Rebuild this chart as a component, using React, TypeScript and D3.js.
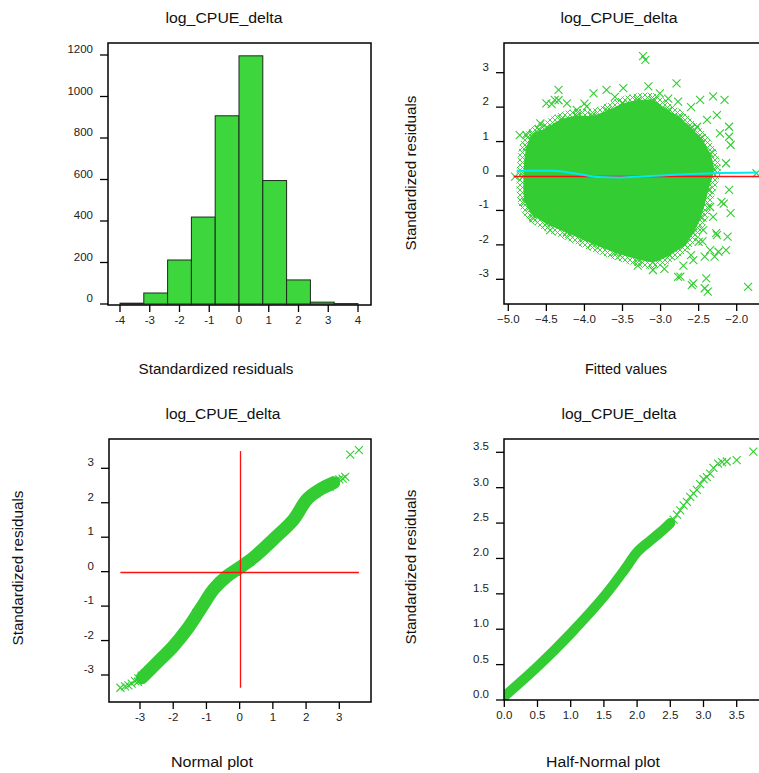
import React from 'react';
import * as d3 from 'd3';

const W = 759;
const H = 773;
const FONT = '"Liberation Sans", Arial, Helvetica, sans-serif';
const GREEN = '#33cc33';
const BAR_FILL = '#3dd63d';
const RED = '#ff1010';
const CYAN = '#00e8f0';

// histogram of standardized residuals
const binEdges = [-4, -3.2, -2.4, -1.6, -0.8, 0, 0.8, 1.6, 2.4, 3.2, 4];
const binCounts = [4, 53, 212, 419, 907, 1196, 595, 116, 9, 2];
const histXTicks = [-4, -3, -2, -1, 0, 1, 2, 3, 4];
const histYTicks = [0, 200, 400, 600, 800, 1000, 1200];

// residuals vs fitted: dense core outline
const coreX = [-4.8, -4.76, -4.68, -4.5, -4.3, -4.1, -3.9, -3.7, -3.5, -3.3, -3.1, -2.9, -2.75, -2.6, -2.47, -2.35, -2.3, -2.37, -2.47, -2.57, -2.68, -2.88, -3.1, -3.3, -3.6, -3.9, -4.2, -4.5, -4.68, -4.78];
const coreY = [0.0, 0.85, 1.2, 1.4, 1.65, 1.75, 1.75, 1.9, 2.1, 2.2, 2.2, 1.9, 1.7, 1.4, 1.1, 0.65, 0.2, -0.4, -1.2, -1.65, -2.0, -2.3, -2.5, -2.42, -2.22, -1.97, -1.68, -1.38, -1.12, -0.75];
// residuals vs fitted: scattered points around the core
const fitX = [-3.23, -3.2, -3.16, -2.79, -4.34, -4.43, -4.34, -4.85, -4.76, -3.71, -3.49, -3.88, -2.31, -2.16, -2.48, -2.1, -2.1, -2.08, -2.14, -1.74, -4.91, -2.1, -2.17, -2.08, -2.12, -2.27, -2.14, -2.29, -2.4, -2.38, -2.42, -2.57, -1.85, -2.74, -2.57, -2.44, -2.31, -4.5, -4.39, -4.23, -4.1, -3.97, -4.58, -4.67, -4.71, -3.01, -2.77, -2.26, -2.22, -2.39, -2.52, -2.2, -2.24, -2.35, -2.59, -2.77, -2.26, -2.5, -2.42, -4.76, -4.71, -4.67, -4.45, -4.23, -4.01, -3.79, -3.53, -3.1, -2.95, -3.3, -2.6, -2.9, -3.6, -4.0, -4.6, -2.4, -2.35, -2.6, -2.7, -2.45];
const fitY = [3.48, 3.37, 2.6, 2.69, 2.5, 2.09, 2.2, 1.19, 1.19, 2.5, 2.55, 2.4, 2.31, 2.21, 2.21, 1.43, 1.14, 0.9, 0.37, 0.08, -0.02, -0.4, -0.8, -1.08, -1.76, -1.66, -2.15, -2.34, -2.97, -3.36, -3.26, -3.12, -3.22, -2.92, -2.44, -1.57, -1.19, 2.11, 2.21, 2.11, 1.92, 2.02, 1.53, 0.95, 0.56, 2.4, 2.16, 1.77, 1.24, 1.63, 1.43, -0.75, -2.2, -2.15, -3.17, -2.93, -1.72, -1.91, -2.34, -0.6, -0.89, -1.23, -1.57, -1.62, -1.81, -2.01, -2.3, -2.73, -2.7, -2.6, 2.0, 2.25, 2.3, 2.1, 1.35, 0.5, -0.9, -2.3, -2.6, -1.9];
// smoother through the residuals
const smoothX = [-4.89, -4.43, -4.08, -3.82, -3.56, -3.21, -2.77, -2.33, -1.72];
const smoothY = [0.15, 0.15, 0.06, -0.03, -0.04, -0.01, 0.04, 0.08, 0.1];
const fitXTicks = [-5.0, -4.5, -4.0, -3.5, -3.0, -2.5, -2.0];
const fitYTicks = [-3, -2, -1, 0, 1, 2, 3];

// normal plot: theoretical quantile vs residual
const qqBandX = [-2.94, -2.69, -2.39, -1.99, -1.58, -1.18, -0.78, -0.38, 0, 0.42, 1.02, 1.63, 2.03, 2.43, 2.83];
const qqBandY = [-3.08, -2.84, -2.55, -2.16, -1.67, -1.09, -0.51, -0.13, 0.12, 0.41, 0.94, 1.52, 2.1, 2.39, 2.58];
const qqTailX = [-3.59, -3.45, -3.35, -3.25, -3.15, -3.05, -2.95, -2.85, -2.75, 2.7, 2.8, 2.9, 3.0, 3.1, 3.18, 3.33, 3.59];
const qqTailY = [-3.37, -3.33, -3.3, -3.25, -3.18, -3.1, -3.02, -2.95, -2.87, 2.55, 2.6, 2.65, 2.68, 2.7, 2.75, 3.4, 3.53];
const qqTicks = [-3, -2, -1, 0, 1, 2, 3];

// half-normal plot
const hnBandX = [0, 0.5, 1.0, 1.5, 1.81, 2.0, 2.21, 2.41, 2.5];
const hnBandY = [0.05, 0.47, 0.94, 1.46, 1.84, 2.09, 2.26, 2.42, 2.5];
const hnTailX = [2.55, 2.6, 2.65, 2.7, 2.75, 2.8, 2.85, 2.9, 2.95, 3.0, 3.05, 3.1, 3.15, 3.22, 3.28, 3.35, 3.5, 3.75];
const hnTailY = [2.55, 2.62, 2.68, 2.75, 2.8, 2.87, 2.92, 2.97, 3.05, 3.12, 3.15, 3.2, 3.28, 3.34, 3.36, 3.37, 3.39, 3.51];
const hnTicks = [0, 0.5, 1.0, 1.5, 2.0, 2.5, 3.0, 3.5];

const TITLE = 'log_CPUE_delta';

type Box = { x0: number; x1: number; y0: number; y1: number };

function Cross({ x, y }: { x: number; y: number }) {
  return <path d={`M${x - 4},${y - 4}L${x + 4},${y + 4}M${x + 4},${y - 4}L${x - 4},${y + 4}`} stroke={GREEN} strokeWidth={1.1} fill="none" />;
}

function Frame({ b }: { b: Box }) {
  return <rect x={b.x0} y={b.y0} width={b.x1 - b.x0} height={b.y1 - b.y0} fill="none" stroke="#000" strokeWidth={1.5} />;
}

function XAxis({ b, scale, ticks, fmt }: { b: Box; scale: any; ticks: number[]; fmt: (v: number) => string }) {
  return (
    <g>
      {ticks.map((t) => (
        <g key={t}>
          <line x1={scale(t)} x2={scale(t)} y1={b.y1} y2={b.y1 + 7} stroke="#000" strokeWidth={1.3} />
          <text x={scale(t)} y={b.y1 + 19} textAnchor="middle" fontSize={11.5} fontFamily={FONT} fill="#222">{fmt(t)}</text>
        </g>
      ))}
    </g>
  );
}

function YAxis({ b, scale, ticks, fmt }: { b: Box; scale: any; ticks: number[]; fmt: (v: number) => string }) {
  return (
    <g>
      {ticks.map((t) => (
        <g key={t}>
          <line x1={b.x0 - 8} x2={b.x0} y1={scale(t)} y2={scale(t)} stroke="#000" strokeWidth={1.3} />
          <text x={b.x0 - 15} y={scale(t) - 2} textAnchor="end" fontSize={11.5} fontFamily={FONT} fill="#222">{fmt(t)}</text>
        </g>
      ))}
    </g>
  );
}

function Label({ x, y, text, len, rotate }: { x: number; y: number; text: string; len: number; rotate?: boolean }) {
  return (
    <text
      x={x}
      y={y}
      textAnchor="middle"
      fontSize={15.5}
      fontFamily={FONT}
      fill="#111"
      textLength={len}
      lengthAdjust="spacingAndGlyphs"
      transform={rotate ? `rotate(-90,${x},${y})` : undefined}
    >
      {text}
    </text>
  );
}

export default function App() {
  const f0 = (v: number) => String(v);
  const f1 = d3.format('.1f');

  // top-left histogram
  const bTL: Box = { x0: 108, x1: 371, y0: 43, y1: 305 };
  const hx = d3.scaleLinear().domain([-4, 4]).range([120, 358]);
  const hy = d3.scaleLinear().domain([0, 1200]).range([304, 55]);

  // top-right residuals vs fitted
  const bTR: Box = { x0: 504, x1: 790, y0: 43, y1: 304 };
  const fx = d3.scaleLinear().domain([-5, -2]).range([508.3, 736.7]);
  const fy = d3.scaleLinear().domain([-3, 3]).range([279.3, 72.7]);
  const coreLine = d3.line<number>().x((i) => fx(coreX[i])).y((i) => fy(coreY[i])).curve(d3.curveCatmullRomClosed);
  const smoothLine = d3.line<number>().x((i) => fx(smoothX[i])).y((i) => fy(smoothY[i])).curve(d3.curveMonotoneX);

  // bottom-left normal plot
  const bBL: Box = { x0: 109, x1: 371, y0: 439, y1: 702 };
  const qx = d3.scaleLinear().domain([-3, 3]).range([140, 339.3]);
  const qy = d3.scaleLinear().domain([-3, 3]).range([675, 468.3]);
  const qqLine = d3.line<number>().x((i) => qx(qqBandX[i])).y((i) => qy(qqBandY[i])).curve(d3.curveCatmullRom);

  // bottom-right half-normal plot
  const bBR: Box = { x0: 504, x1: 790, y0: 439, y1: 700 };
  const nx = d3.scaleLinear().domain([0, 3.5]).range([504.3, 736.7]);
  const ny = d3.scaleLinear().domain([0, 3.5]).range([700, 452.3]);
  const hnLine = d3.line<number>().x((i) => nx(hnBandX[i])).y((i) => ny(hnBandY[i])).curve(d3.curveCatmullRom);

  return (
    <svg width={W} height={H} style={{ display: 'block', position: 'absolute', left: 0, top: 0, background: '#fff' }}>
      <defs>
        <clipPath id="clipTR"><rect x={bTR.x0} y={bTR.y0} width={bTR.x1 - bTR.x0} height={bTR.y1 - bTR.y0} /></clipPath>
        <clipPath id="clipBR"><rect x={bBR.x0} y={bBR.y0 - 6} width={bBR.x1 - bBR.x0} height={bBR.y1 - bBR.y0 + 6} /></clipPath>
        <clipPath id="clipBL"><rect x={bBL.x0} y={bBL.y0} width={bBL.x1 - bBL.x0} height={bBL.y1 - bBL.y0} /></clipPath>
        <pattern id="xpat" width={5} height={5} patternUnits="userSpaceOnUse">
          <path d="M0,0L5,5M5,0L0,5" stroke={GREEN} strokeWidth={0.9} />
        </pattern>
      </defs>

      {/* titles */}
      <text x={224} y={23} textAnchor="middle" fontSize={15.5} fontFamily={FONT} fill="#111" textLength={117} lengthAdjust="spacingAndGlyphs">{TITLE}</text>
      <text x={619} y={23} textAnchor="middle" fontSize={15.5} fontFamily={FONT} fill="#111" textLength={117} lengthAdjust="spacingAndGlyphs">{TITLE}</text>
      <text x={223} y={419} textAnchor="middle" fontSize={15.5} fontFamily={FONT} fill="#111" textLength={115} lengthAdjust="spacingAndGlyphs">{TITLE}</text>
      <text x={619} y={419} textAnchor="middle" fontSize={15.5} fontFamily={FONT} fill="#111" textLength={115} lengthAdjust="spacingAndGlyphs">{TITLE}</text>

      {/* histogram */}
      <g>
        {binCounts.map((c, i) => (
          <rect
            key={i}
            x={hx(binEdges[i])}
            y={hy(c)}
            width={hx(binEdges[i + 1]) - hx(binEdges[i])}
            height={hy(0) - hy(c)}
            fill={BAR_FILL}
            stroke="#1c2a1c"
            strokeWidth={1}
          />
        ))}
        <Frame b={bTL} />
        <XAxis b={bTL} scale={hx} ticks={histXTicks} fmt={f0} />
        <YAxis b={bTL} scale={hy} ticks={histYTicks} fmt={f0} />
        <Label x={216} y={374} text="Standardized residuals" len={155} />
      </g>

      {/* residuals vs fitted */}
      <g>
        <g clipPath="url(#clipTR)">
          <path d={coreLine(d3.range(coreX.length)) || ''} fill={GREEN} stroke="url(#xpat)" strokeWidth={14} />
          {coreX.map((v, i) => <Cross key={'c' + i} x={fx(v)} y={fy(coreY[i])} />)}
          {fitX.map((v, i) => <Cross key={i} x={fx(v)} y={fy(fitY[i])} />)}
          <line x1={fx(-4.93)} x2={bTR.x1} y1={Math.round(fy(0)) + 0.5} y2={Math.round(fy(0)) + 0.5} stroke={RED} strokeWidth={1.5} />
          <path d={smoothLine(d3.range(smoothX.length)) || ''} fill="none" stroke={CYAN} strokeWidth={2} />
        </g>
        <Frame b={bTR} />
        <XAxis b={bTR} scale={fx} ticks={fitXTicks} fmt={f1} />
        <YAxis b={bTR} scale={fy} ticks={fitYTicks} fmt={f0} />
        <Label x={626} y={374} text="Fitted values" len={82} />
        <Label x={416} y={173} text="Standardized residuals" len={155} rotate />
      </g>

      {/* normal plot */}
      <g>
        <g clipPath="url(#clipBL)">
          <path d={qqLine(d3.range(qqBandX.length)) || ''} fill="none" stroke={GREEN} strokeWidth={13} strokeLinecap="round" />
          {qqTailX.map((v, i) => <Cross key={i} x={qx(v)} y={qy(qqTailY[i])} />)}
          {qqBandX.map((v, i) => <Cross key={'b' + i} x={qx(v) - 4} y={qy(qqBandY[i]) + 4} />)}
          <line x1={qx(-3.59)} x2={qx(3.59)} y1={Math.round(qy(0)) + 0.5} y2={Math.round(qy(0)) + 0.5} stroke={RED} strokeWidth={1.5} />
          <line x1={Math.round(qx(0)) + 0.5} x2={Math.round(qx(0)) + 0.5} y1={qy(3.5)} y2={qy(-3.37)} stroke={RED} strokeWidth={1.3} />
        </g>
        <Frame b={bBL} />
        <XAxis b={bBL} scale={qx} ticks={qqTicks} fmt={f0} />
        <YAxis b={bBL} scale={qy} ticks={qqTicks} fmt={f0} />
        <Label x={212} y={767} text="Normal plot" len={82} />
        <Label x={23} y={568} text="Standardized residuals" len={155} rotate />
      </g>

      {/* half-normal plot */}
      <g>
        <g clipPath="url(#clipBR)">
          <path d={hnLine(d3.range(hnBandX.length)) || ''} fill="none" stroke={GREEN} strokeWidth={10} strokeLinecap="round" />
          {hnTailX.map((v, i) => <Cross key={i} x={nx(v)} y={ny(hnTailY[i])} />)}
        </g>
        <Frame b={bBR} />
        <XAxis b={bBR} scale={nx} ticks={hnTicks} fmt={f1} />
        <YAxis b={bBR} scale={ny} ticks={hnTicks} fmt={f1} />
        <Label x={603} y={767} text="Half-Normal plot" len={114} />
        <Label x={416} y={567} text="Standardized residuals" len={155} rotate />
      </g>
    </svg>
  );
}
